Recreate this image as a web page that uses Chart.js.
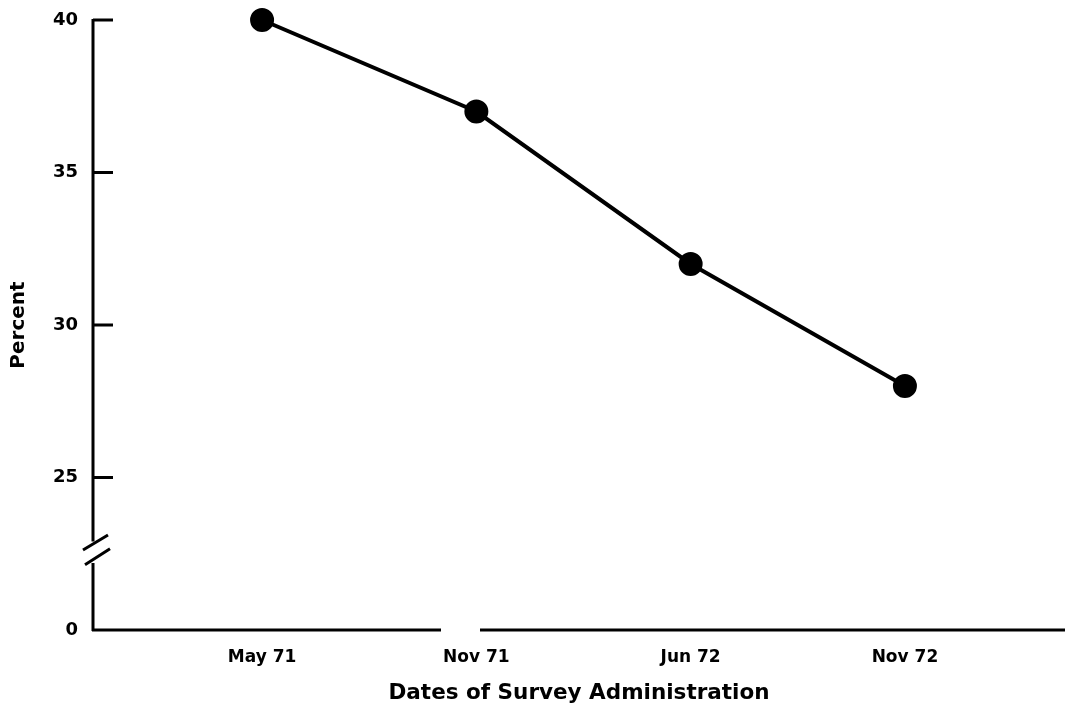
<!DOCTYPE html>
<html>
<head>
<meta charset="utf-8">
<script src="https://cdn.jsdelivr.net/npm/chart.js@4/dist/chart.umd.min.js"></script>
<style>
  html, body { margin: 0; padding: 0; background: #fff; }
  #wrap { width: 1067px; height: 715px; }
</style>
</head>
<body>
<div id="wrap"><canvas id="chart" width="1067" height="715"></canvas></div>
<script>
// survey dates and the percent
const surveyDates = ['May 71', 'Nov 71', 'Jun 72', 'Nov 72'];
const percentValues = [40, 37, 32, 28];
// left axis: 20 sits at the break and is labelled 0
const yTickValues = [20, 25, 30, 35, 40];
const yTickLabels = ['0', '25', '30', '35', '40'];

const INK = '#000';
const FONT = '"DejaVu Sans", Verdana, sans-serif';

// hand drawn axes: inward tick marks, broken y axis, gap in the x axis
const axesPlugin = {
  id: 'axes',
  afterDatasetsDraw(chart) {
    const { ctx } = chart;
    const x = chart.scales.x;
    const y = chart.scales.y;
    const left = x.left;
    const bottom = y.bottom;
    ctx.save();
    ctx.strokeStyle = INK;
    ctx.lineWidth = 3;
    ctx.lineCap = 'butt';

    // y axis, broken near 22.5
    ctx.beginPath();
    ctx.moveTo(left, y.top - 1);
    ctx.lineTo(left, y.getPixelForValue(22.9));
    ctx.moveTo(left, y.getPixelForValue(22.2));
    ctx.lineTo(left, bottom + 1);
    ctx.stroke();

    // break marks
    ctx.beginPath();
    const b1 = y.getPixelForValue(22.85);
    const b2 = y.getPixelForValue(22.4);
    ctx.moveTo(left - 10, b1 + 7);
    ctx.lineTo(left + 15, b1 - 8);
    ctx.moveTo(left - 8, b2 + 8);
    ctx.lineTo(left + 17, b2 - 8);
    ctx.stroke();

    // inward tick marks
    ctx.beginPath();
    yTickValues.slice(1).forEach(v => {
      const py = y.getPixelForValue(v);
      ctx.moveTo(left, py);
      ctx.lineTo(left + 20, py);
    });
    ctx.stroke();

    // x axis with the small gap left of Nov 71
    ctx.beginPath();
    ctx.moveTo(left - 1, bottom);
    ctx.lineTo(x.getPixelForValue(0.835), bottom);
    ctx.moveTo(x.getPixelForValue(1.017), bottom);
    ctx.lineTo(x.right, bottom);
    ctx.stroke();
    ctx.restore();
  },
};

new Chart(document.getElementById('chart'), {
  type: 'line',
  data: {
    datasets: [{
      data: percentValues.map((v, i) => ({ x: i, y: v })),
      borderColor: INK,
      backgroundColor: INK,
      borderWidth: 4,
      pointRadius: 10,
      pointHoverRadius: 10,
      tension: 0,
      fill: false,
      clip: false,
    }],
  },
  options: {
    responsive: false,
    animation: false,
    events: [],
    layout: { autoPadding: false, padding: { top: 20, right: 2, left: 0, bottom: 0 } },
    plugins: {
      legend: { display: false },
      tooltip: { enabled: false },
    },
    scales: {
      x: {
        type: 'linear',
        min: -0.789,
        max: 3.747,
        afterBuildTicks: scale => {
          scale.ticks = surveyDates.map((_, i) => ({ value: i }));
        },
        afterFit: scale => {
          scale.height = 85;
          scale.paddingLeft = 0;
          scale.paddingRight = 0;
        },
        border: { display: false },
        grid: { display: false, drawTicks: false },
        ticks: {
          padding: 17,
          color: INK,
          font: { family: FONT, size: 17, weight: 'bold' },
          callback: v => surveyDates[v],
        },
        title: {
          display: true,
          text: 'Dates of Survey Administration',
          color: INK,
          font: { family: FONT, size: 21.5, weight: 'bold' },
          padding: { top: 0, bottom: 9 },
        },
      },
      y: {
        min: 20,
        max: 40,
        afterBuildTicks: scale => {
          scale.ticks = yTickValues.map(v => ({ value: v }));
        },
        afterFit: scale => {
          scale.width = 93;
          scale.paddingTop = 0;
          scale.paddingBottom = 0;
        },
        border: { display: false },
        grid: { display: false, drawTicks: false },
        ticks: {
          padding: 15,
          color: INK,
          font: { family: FONT, size: 18, weight: 'bold' },
          callback: v => yTickLabels[yTickValues.indexOf(v)],
        },
        title: {
          display: true,
          text: 'Percent',
          color: INK,
          font: { family: FONT, size: 20, weight: 'bold' },
          padding: { top: 7, bottom: 0 },
        },
      },
    },
  },
  plugins: [axesPlugin],
});
</script>
</body>
</html>
